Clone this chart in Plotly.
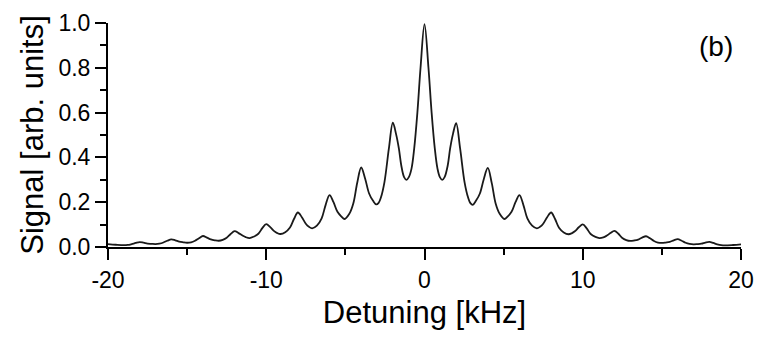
import plotly.graph_objects as go

# Detuning [kHz] values
detuning_khz = [
    -20.0, -19.5, -19.0, -18.75, -18.5, -18.25, -18.0, -17.75, -17.5, -17.25,
    -17.0, -16.75, -16.5, -16.25, -16.0, -15.75, -15.5, -15.25, -15.0, -14.75,
    -14.5, -14.25, -14.0, -13.75, -13.5, -13.25, -13.0, -12.75, -12.5, -12.25,
    -12.0, -11.75, -11.5, -11.3, -11.05, -10.8, -10.5, -10.25, -10.0, -9.75,
    -9.5, -9.3, -9.1, -8.8, -8.5, -8.25, -8.0, -7.75, -7.5, -7.3,
    -7.1, -6.8, -6.5, -6.25, -6.0, -5.75, -5.5, -5.25, -5.05, -4.75,
    -4.5, -4.25, -4.0, -3.75, -3.5, -3.25, -3.05, -2.9, -2.75, -2.53, -2.25,
    -2.0, -1.8, -1.62, -1.47, -1.29, -1.14, -0.99, -0.82, -0.65, -0.45, -0.25, 0.0,
    0.25, 0.45, 0.65, 0.82, 0.97, 1.12, 1.27, 1.47, 1.62, 1.8, 2.0, 2.25,
    2.53, 2.75, 2.9, 3.05, 3.25, 3.5, 3.75, 4.0, 4.25, 4.5, 4.75,
    5.05, 5.25, 5.5, 5.75, 6.0, 6.25, 6.5, 6.8, 7.1, 7.3,
    7.5, 7.75, 8.0, 8.25, 8.5, 8.8, 9.1, 9.3, 9.5, 9.75,
    10.0, 10.25, 10.5, 10.8, 11.05, 11.3, 11.5, 11.75, 12.0, 12.25,
    12.5, 12.75, 13.0, 13.25, 13.5, 13.75, 14.0, 14.25, 14.5, 14.75,
    15.0, 15.25, 15.5, 15.75, 16.0, 16.25, 16.5, 16.75, 17.0, 17.25,
    17.5, 17.75, 18.0, 18.25, 18.5, 18.75, 19.0, 19.5, 20.0,
]

# Signal [arb. units] values
signal = [
    0.013, 0.010, 0.008, 0.009, 0.013, 0.018, 0.022, 0.019, 0.015, 0.014,
    0.013, 0.015, 0.020, 0.028, 0.034, 0.030, 0.024, 0.021, 0.019, 0.021,
    0.028, 0.039, 0.049, 0.042, 0.034, 0.030, 0.028, 0.032, 0.041, 0.058,
    0.071, 0.062, 0.051, 0.044, 0.040, 0.046, 0.059, 0.084, 0.102, 0.089,
    0.071, 0.062, 0.058, 0.066, 0.087, 0.125, 0.154, 0.133, 0.104, 0.090,
    0.083, 0.095, 0.128, 0.187, 0.232, 0.200, 0.157, 0.136, 0.125, 0.148,
    0.194, 0.287, 0.355, 0.305, 0.239, 0.206, 0.190, 0.197, 0.222, 0.290, 0.440,
    0.555, 0.505, 0.440, 0.365, 0.312, 0.300, 0.312, 0.350, 0.440, 0.600, 0.800, 0.995,
    0.800, 0.600, 0.440, 0.350, 0.312, 0.300, 0.312, 0.365, 0.440, 0.505, 0.553, 0.440,
    0.290, 0.222, 0.196, 0.188, 0.206, 0.239, 0.304, 0.353, 0.285, 0.193, 0.148,
    0.125, 0.136, 0.157, 0.200, 0.232, 0.187, 0.128, 0.095, 0.083, 0.090,
    0.104, 0.133, 0.154, 0.125, 0.086, 0.065, 0.057, 0.061, 0.070, 0.088,
    0.101, 0.083, 0.058, 0.045, 0.040, 0.043, 0.050, 0.062, 0.072, 0.059,
    0.040, 0.031, 0.027, 0.029, 0.033, 0.042, 0.048, 0.039, 0.027, 0.020,
    0.018, 0.020, 0.023, 0.030, 0.035, 0.028, 0.019, 0.014, 0.012, 0.013,
    0.015, 0.020, 0.023, 0.018, 0.012, 0.008, 0.007, 0.009, 0.012,
]

x_ticks = [-20, -10, 0, 10, 20]
y_ticks = [0.0, 0.2, 0.4, 0.6, 0.8, 1.0]
panel_label = "(b)"

FONT = "Liberation Sans, Arial, sans-serif"

W, H = 757, 337
ML, MR, MT, MB = 108, 16, 23, 90
pw, ph = W - ML - MR, H - MT - MB

fig = go.Figure()
fig.add_trace(go.Scatter(
    x=detuning_khz, y=signal, mode="lines",
    line=dict(color="#1a1a1a", width=1.8, shape="spline", smoothing=1.0),
    showlegend=False, hoverinfo="skip",
))

axis_common = dict(
    showline=True, linecolor="black", linewidth=2,
    ticks="outside", ticklen=11, tickwidth=2, tickcolor="black",
    showgrid=False, zeroline=False, mirror=False, automargin=False,
    tickfont=dict(family=FONT, size=23, color="black"),
)

fig.update_xaxes(
    range=[-20, 20], tickvals=x_ticks, ticktext=[str(v) for v in x_ticks],
    minor=dict(dtick=5, ticks="outside", ticklen=6, tickwidth=2, tickcolor="black"),
    title=dict(text="Detuning [kHz]", font=dict(family=FONT, size=31, color="black"), standoff=10),
    **axis_common,
)
fig.update_yaxes(
    range=[0, 1.0], tickvals=y_ticks, ticktext=[f"{v:.1f}" for v in y_ticks],
    minor=dict(dtick=0.1, ticks="outside", ticklen=6, tickwidth=2, tickcolor="black"),
    title=dict(text="Signal [arb. units]", font=dict(family=FONT, size=31, color="black"), standoff=6),
    **axis_common,
)

fig.add_annotation(
    x=(716 - ML) / pw, y=1 - (47 - MT) / ph, xref="paper", yref="paper",
    xanchor="center", yanchor="middle",
    text=panel_label, showarrow=False,
    font=dict(family=FONT, size=28, color="black"),
)

fig.update_layout(
    width=W, height=H,
    margin=dict(l=ML, r=MR, t=MT, b=MB, pad=0),
    paper_bgcolor="white", plot_bgcolor="white",
    font=dict(family=FONT, color="black"),
)

fig.write_html("out.html")
